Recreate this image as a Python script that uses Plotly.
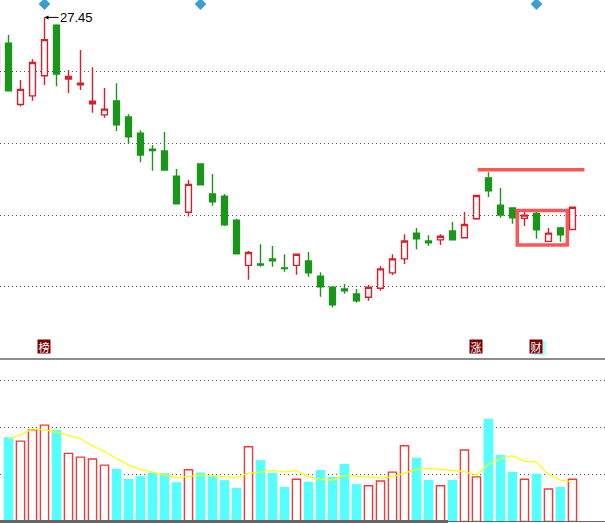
import plotly.graph_objects as go

# daily candles, index -1 is the one cut off at the left edge
days = list(range(-1, 48))
opens = [25.56, 26.73, 25.02, 25.26, 25.82, 27.23, 25.73, 25.57, 25.04, 24.73,
         25.12, 24.67, 24.22, 23.77, 23.72, 23.02, 22.01, 23.36, 22.52, 22.46,
         21.79, 20.53, 20.57, 20.71, 20.46, 20.53, 20.65, 20.23, 19.92, 19.87,
         19.73, 19.64, 19.89, 20.32, 20.71, 21.43, 21.21, 21.24, 21.49, 21.30,
         21.83, 22.97, 22.21, 22.13, 21.84, 21.98, 21.20, 21.57, 21.53]
highs = [26.81, 26.96, 25.70, 26.28, 27.45, 27.26, 25.98, 26.54, 26.06, 25.48,
         25.61, 24.75, 24.30, 23.89, 24.25, 23.22, 22.91, 23.38, 23.08, 22.52,
         21.83, 20.93, 21.12, 21.07, 20.84, 20.85, 20.90, 20.34, 19.95, 20.01,
         19.87, 19.98, 20.51, 20.84, 21.40, 21.57, 21.37, 21.40, 21.74, 22.02,
         22.48, 23.13, 22.69, 22.13, 22.10, 22.04, 21.57, 21.60, 22.15]
lows = [25.48, 25.40, 24.97, 25.12, 25.56, 25.53, 25.34, 25.42, 24.79, 24.65,
        24.28, 23.92, 23.41, 23.17, 23.19, 22.25, 21.89, 22.78, 22.19, 21.63,
        20.85, 20.13, 20.49, 20.49, 20.35, 20.27, 20.21, 19.65, 19.35, 19.74,
        19.49, 19.54, 19.82, 20.26, 20.57, 20.98, 21.07, 21.10, 21.24, 21.30,
        21.80, 22.44, 21.86, 21.69, 21.63, 21.27, 21.20, 21.19, 21.53]
closes = [26.70, 25.40, 25.44, 26.19, 26.83, 25.87, 25.80, 25.61, 25.11, 24.89,
          24.45, 24.12, 23.61, 23.73, 23.19, 22.25, 22.79, 22.78, 22.30, 21.66,
          20.85, 20.89, 20.54, 20.66, 20.44, 20.84, 20.32, 19.93, 19.43, 19.82,
          19.54, 19.92, 20.43, 20.71, 21.21, 21.27, 21.16, 21.34, 21.24, 21.67,
          22.48, 22.61, 21.93, 21.86, 21.93, 21.52, 21.43, 21.38, 22.15]

# volume (万手) and its 5-day average
vol_days = list(range(0, 48))
volumes = [1.78, 1.71, 1.95, 2.05, 1.93, 1.45, 1.37, 1.33, 1.20, 1.10,
           0.89, 0.95, 1.03, 1.01, 0.82, 1.10, 1.03, 0.95, 0.86, 0.70,
           1.59, 1.29, 1.02, 0.72, 0.90, 0.83, 1.08, 0.93, 1.21, 0.78,
           0.76, 0.86, 1.05, 1.61, 1.34, 0.87, 0.76, 0.87, 1.52, 0.95,
           2.17, 1.40, 1.04, 0.90, 1.00, 0.69, 0.72, 0.90]
vol_ma5 = [1.76, 1.84, 1.97, 1.95, 1.90, 1.83, 1.76, 1.61, 1.49, 1.34,
           1.20, 1.11, 1.05, 1.00, 0.93, 0.96, 0.98, 0.97, 0.95, 0.93,
           1.03, 1.05, 1.09, 1.05, 1.08, 0.95, 0.90, 0.88, 0.98, 0.96,
           0.95, 0.93, 0.95, 1.03, 1.11, 1.13, 1.11, 1.09, 1.06, 0.99,
           1.22, 1.34, 1.40, 1.28, 1.27, 1.00, 0.88, 0.84]

price_grid = [19.93, 21.93, 23.93, 25.93, 27.93]
vol_grid = [1, 2, 3]

event_days = [3, 16, 44]
marks = [(3, "榜"), (39, "涨"), (44, "财")]
peak_day, peak_price = 3, 27.45
resist_price = 23.20

RED = "#D3212D"
GREEN = "#1A961A"
VRED = "#F03A3A"
CYAN = "#55FFFF"
MARK = "#FF5555"

fig = go.Figure()

fig.add_trace(go.Candlestick(
    x=days, open=opens, high=highs, low=lows, close=closes,
    increasing=dict(line=dict(color=RED, width=1.4), fillcolor="white"),
    decreasing=dict(line=dict(color=GREEN, width=1.4), fillcolor=GREEN),
    whiskerwidth=0, showlegend=False, hoverinfo="skip",
    xaxis="x", yaxis="y",
))

up = [closes[d + 1] >= opens[d + 1] for d in vol_days]
fig.add_trace(go.Bar(
    x=vol_days, y=volumes, width=0.68,
    marker=dict(color=["white" if u else CYAN for u in up],
                line=dict(color=[VRED if u else CYAN for u in up], width=1.4)),
    showlegend=False, hoverinfo="skip", xaxis="x", yaxis="y2",
))
fig.add_trace(go.Scatter(
    x=vol_days, y=vol_ma5, mode="lines", line=dict(color="#FFFF00", width=1.2),
    showlegend=False, hoverinfo="skip", xaxis="x", yaxis="y2",
))

fig.add_trace(go.Scatter(
    x=event_days, y=[27.82] * len(event_days), mode="markers",
    marker=dict(symbol="diamond", size=9, color="#3A9FD0"),
    showlegend=False, hoverinfo="skip", cliponaxis=False, xaxis="x", yaxis="y",
))

shapes = [
    dict(type="line", xref="x", yref="y", x0=39.1, x1=48.0,
         y0=resist_price, y1=resist_price, line=dict(color=MARK, width=3.5)),
    dict(type="rect", xref="x", yref="y", x0=42.4, x1=46.57, y0=21.10, y1=22.06,
         line=dict(color=MARK, width=3.5)),
    dict(type="line", xref="paper", yref="paper", x0=0, x1=1,
         y0=1 - 359 / 523, y1=1 - 359 / 523, line=dict(color="#666666", width=1.5)),
    dict(type="line", xref="paper", yref="paper", x0=0, x1=448 / 605,
         y0=1 - 521.5 / 523, y1=1 - 521.5 / 523, line=dict(color="#666666", width=3)),
    dict(type="line", xref="paper", yref="paper", x0=448 / 605, x1=1,
         y0=1 - 521.5 / 523, y1=1 - 521.5 / 523, line=dict(color="#666666", width=1)),
    # pale square peeking out behind the 财 tag
    dict(type="rect", xref="x", yref="paper", x0=43.71, x1=44.79,
         y0=1 - 355 / 523, y1=1 - 341 / 523, line=dict(width=0), fillcolor="#AAFFFF"),
]

annotations = [
    dict(x=peak_day, y=peak_price, xref="x", yref="y", text="27.45",
         showarrow=True, arrowhead=2, arrowsize=0.8, arrowwidth=1, arrowcolor="black",
         ax=14, ay=0, xanchor="left", font=dict(family="Liberation Sans", size=13, color="black")),
]
for d, ch in marks:
    annotations.append(dict(
        x=d, y=1 - 353.5 / 523, xref="x", yref="paper", text=ch, showarrow=False,
        width=12, height=13, bgcolor="#7A0000", borderpad=0, valign="middle",
        font=dict(family="Noto Sans CJK SC", size=11, color="white"),
    ))

fig.update_layout(
    width=605, height=523, autosize=False,
    margin=dict(l=0, r=0, t=0, b=0),
    paper_bgcolor="white", plot_bgcolor="white",
    xaxis=dict(range=[-0.708, 49.71], showticklabels=False, showgrid=False,
               zeroline=False, rangeslider=dict(visible=False), fixedrange=True),
    yaxis=dict(domain=[1 - 358 / 523, 1], range=[17.944, 27.935], tickvals=price_grid,
               showticklabels=False, showgrid=True, gridcolor="#555555", griddash="1px,3px",
               gridwidth=1, zeroline=False),
    yaxis2=dict(domain=[1 - 521.5 / 523, 1 - 359 / 523], range=[0, 3.457], tickvals=vol_grid,
                showticklabels=False, showgrid=True, gridcolor="#555555", griddash="1px,3px",
                gridwidth=1, zeroline=False),
    shapes=shapes, annotations=annotations, bargap=0.3,
)

# the page's default body margin would push the chart 8px in
fig.write_html("out.html", config={"displayModeBar": False},
               post_script="document.body.style.margin='0';")
